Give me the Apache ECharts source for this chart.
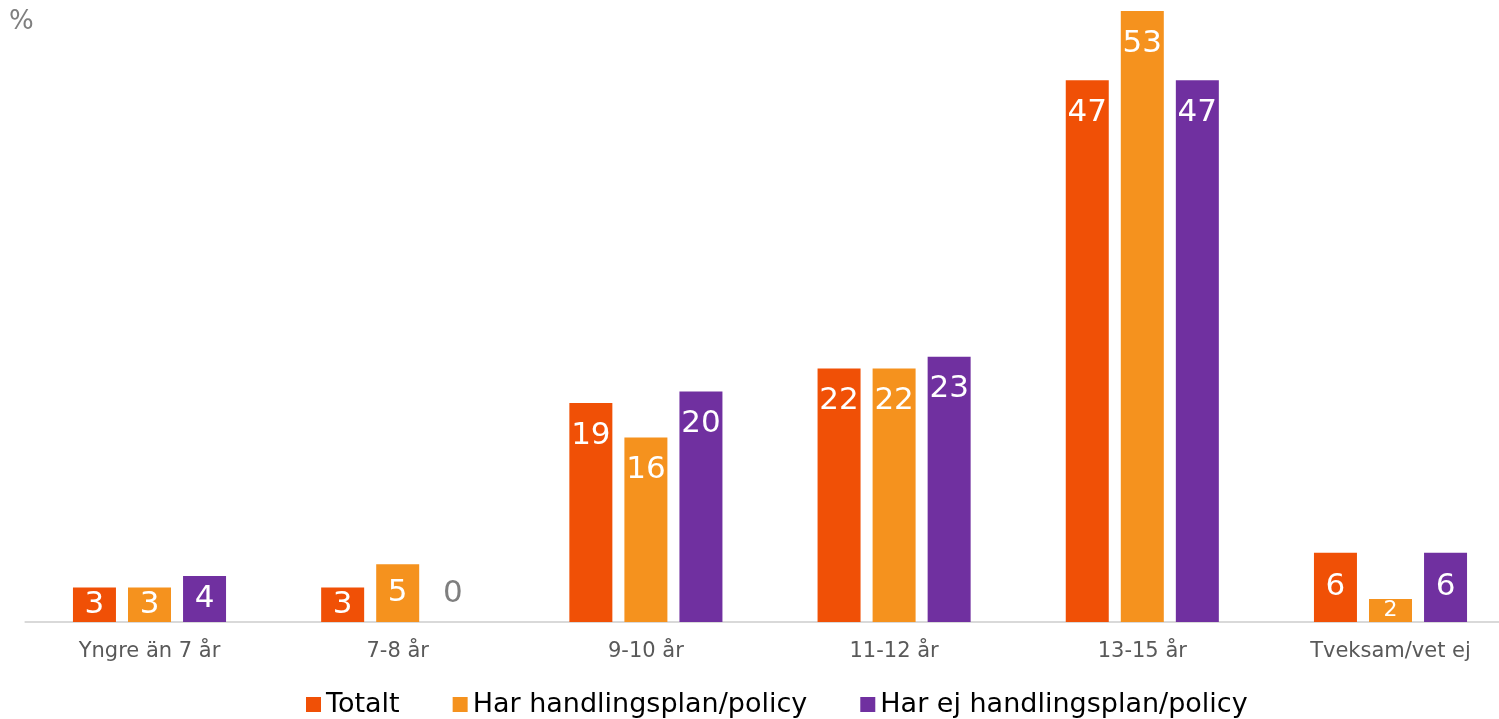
<!DOCTYPE html>
<html><head><meta charset="utf-8">
<script src="https://cdn.jsdelivr.net/npm/echarts@6/dist/echarts.min.js"></script>
<style>html,body{margin:0;padding:0;background:#fff}#c{width:1499px;height:719px}</style>
</head><body><div id="c"></div>
<script>
const categories = ['Yngre än 7 år', '7-8 år', '9-10 år', '11-12 år', '13-15 år', 'Tveksam/vet ej'];
const seriesNames = ['Totalt', 'Har handlingsplan/policy', 'Har ej handlingsplan/policy'];
const totalt = [3, 3, 19, 22, 47, 6];
const harPolicy = [3, 5, 16, 22, 53, 2];
const harEjPolicy = [4, 0, 20, 23, 47, 6];
const colors = ['#F05006', '#F5921E', '#7030A0'];
const FONT = 'DejaVu Sans, Verdana, sans-serif';

function items(vals) {
  return vals.map(v => {
    let label;
    if (v === 0) label = {position: 'top', distance: 13, color: '#7f7f7f'};
    else if (v <= 2) label = {position: 'inside', fontSize: 22};
    else if (v <= 6) label = {position: 'inside'};
    else label = {position: 'insideTop', distance: 17};
    return {value: v, label};
  });
}
const chart = echarts.init(document.getElementById('c'), null, {renderer: 'canvas'});
const vals = [totalt, harPolicy, harEjPolicy];
chart.setOption({
  animation: false,
  color: colors,
  textStyle: {fontFamily: FONT},
  graphic: [{type: 'text', left: 9, top: 9, style: {text: '%', fontSize: 26, fill: '#7f7f7f', fontFamily: FONT}}],
  legend: {
    top: 686, left: 301, itemWidth: 15, itemHeight: 15, itemGap: 53,
    icon: 'rect',
    textStyle: {fontSize: 27, color: '#000', fontFamily: FONT},
    data: seriesNames
  },
  grid: {left: 25.4, right: -15.6, top: 11, bottom: 97, containLabel: false, outerBoundsMode: 'none'},
  xAxis: {
    type: 'category', data: categories,
    axisLine: {lineStyle: {color: '#d9d9d9', width: 2}},
    axisTick: {show: false},
    axisLabel: {fontSize: 21, color: '#595959', margin: 19, fontFamily: FONT}
  },
  yAxis: {type: 'value', min: 0, max: 53, show: false, splitLine: {show: false}},
  series: seriesNames.map((n, i) => ({
    name: n, type: 'bar', barWidth: 43, barGap: '28%',
    itemStyle: {color: colors[i]},
    label: {show: true, color: '#fff', fontSize: 31, fontFamily: FONT},
    data: items(vals[i])
  }))
});
</script></body></html>
